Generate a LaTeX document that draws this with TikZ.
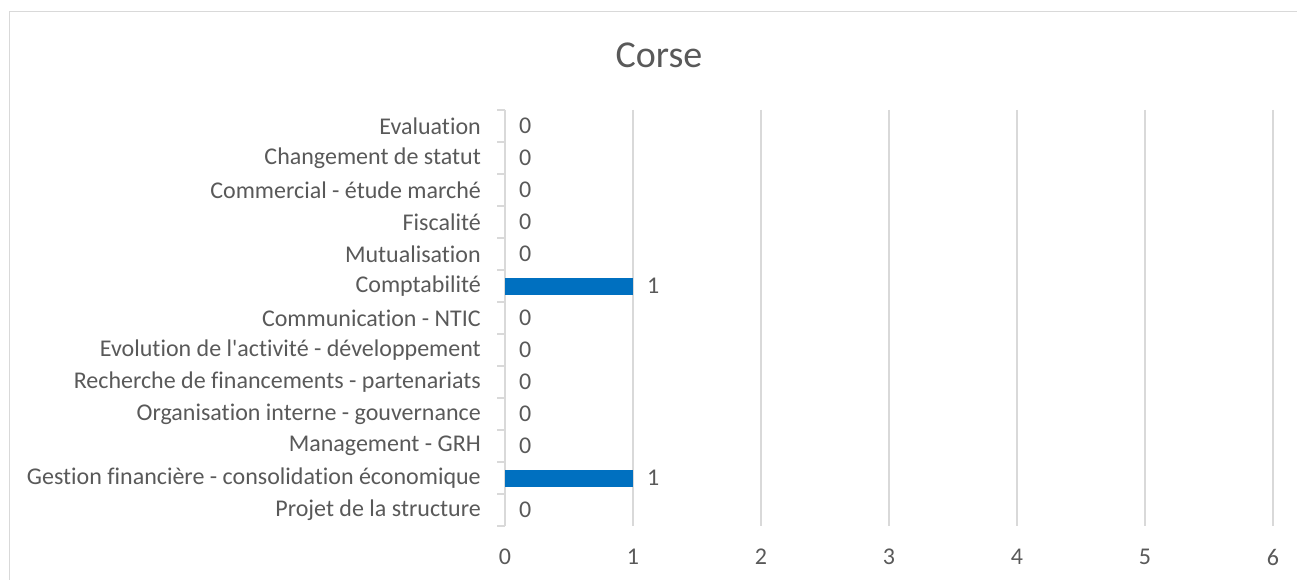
\documentclass[tikz,border=0pt]{standalone}
\usepackage{fontspec}
\setmainfont{Carlito}[Ligatures=NoCommon]

\definecolor{gridgray}{HTML}{D9D9D9}
\definecolor{textgray}{HTML}{595959}
\definecolor{barblue}{HTML}{0070C0}

\tikzset{
catlabel/.style= {anchor=east,inner sep=0pt,text=textgray,font=\fontsize{24}{27}\selectfont},
vallabel/.style= {anchor=west,inner sep=0pt,text=textgray,font=\fontsize{24}{27}\selectfont},
ticklabel/.style= {anchor=center,inner sep=0pt,text=textgray,font=\fontsize{24}{27}\selectfont},
titlelabel/.style= {anchor=center,inner sep=0pt,text=textgray,font=\fontsize{38}{42}\selectfont},
gridline/.style= {draw=gridgray,line width=1.6pt},
barbox/.style= {fill=barblue}
}

\begin{document}
\begin{tikzpicture}[x=1pt,y=-1pt]
\useasboundingbox (0,0) rectangle (1297,580);

% the chart frame (cut at right and bottom)
\draw[gridgray,line width=1.6pt] (9.5,580) -- (9.5,11.5) -- (1297,11.5);

\node[titlelabel] (title) at (659,55) {Corse};

% vertical grid lines and value axis labels
\foreach \k in {1,...,6}
  \draw[gridline] (505+128*\k,110) -- (505+128*\k,526);
\foreach \k in {0,...,6}
  \node[ticklabel] (tick\k) at (505+128*\k,557) {\k};

% category axis with its ticks
\draw[gridline] (505,110) -- (505,526);
\foreach \i in {0,...,13}
  \draw[gridline] (497,110+32*\i) -- (505,110+32*\i);

% the bars, their categories and values
\foreach \lab/\val [count=\i] in {
  Evaluation/0,
  Changement de statut/0,
  Commercial - étude marché/0,
  Fiscalité/0,
  Mutualisation/0,
  Comptabilité/1,
  Communication - NTIC/0,
  Evolution de l\textquotesingle activité - développement/0,
  Recherche de financements - partenariats/0,
  Organisation interne - gouvernance/0,
  Management - GRH/0,
  Gestion financière - consolidation économique/1,
  Projet de la structure/0}
{
  \node[catlabel] (cat\i) at (481,94+32*\i) {\lab};
  \ifnum\val>0
    \fill[barbox] (505,85.5+32*\i) rectangle (505+128*\val,102.5+32*\i);
  \fi
  \node[vallabel] (val\i) at (519+128*\val,94+32*\i) {\val};
}
\end{tikzpicture}
\end{document}
